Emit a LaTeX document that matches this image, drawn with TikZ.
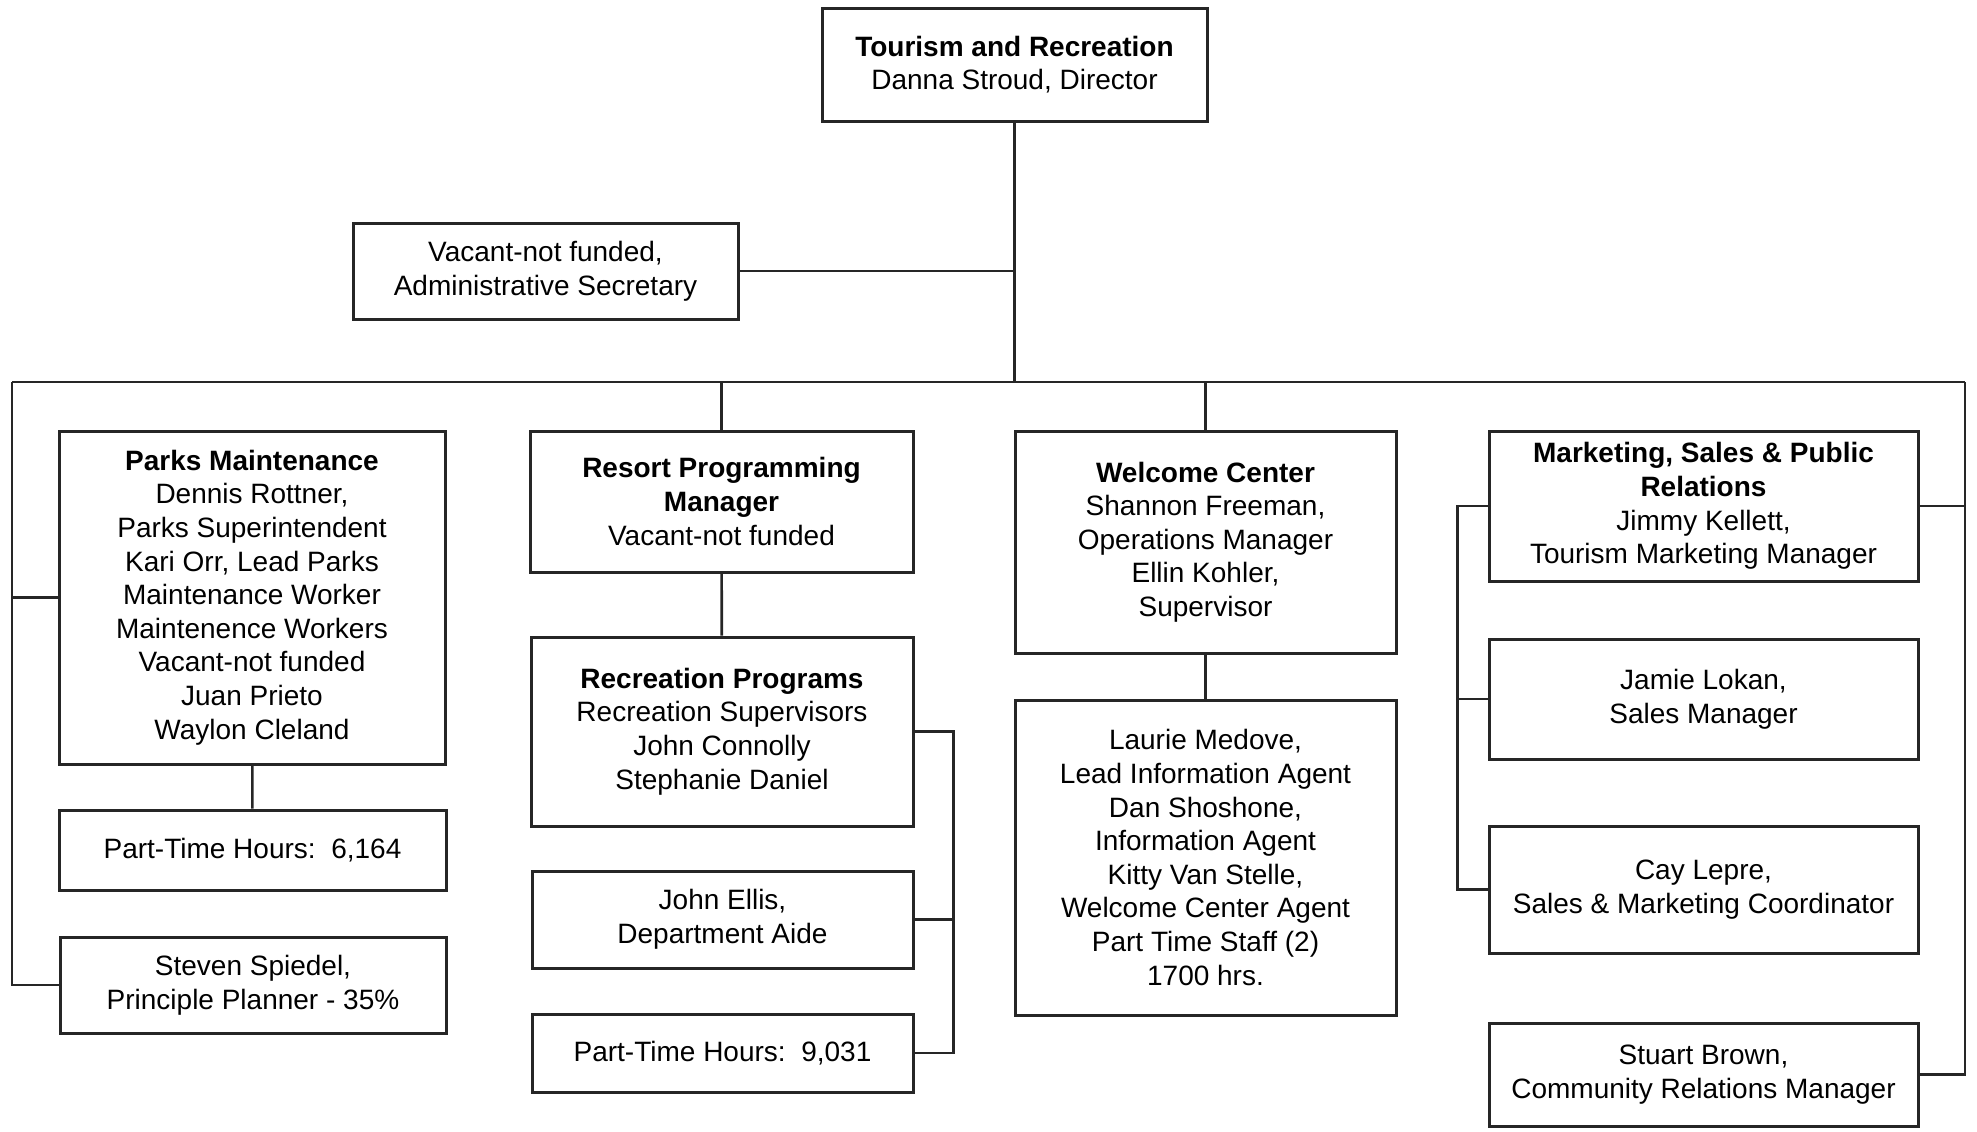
\documentclass[tikz,border=0pt]{standalone}
\usepackage{fontspec}
\setmainfont{Liberation Sans}
\usetikzlibrary{positioning,calc}
\tikzset{
  % org-chart box
  unit/.style  = {rectangle, draw=black!85, line width=1.5pt, fill=white,
                  align=center, inner sep=0pt,
                  font=\fontsize{14}{16.8}\selectfont},
  % size helper (width, height in pt)
  wh/.style 2 args = {minimum width=#1pt, minimum height=#2pt},
  % reporting lines
  link/.style  = {line width=1.3pt, black!85},
}

\begin{document}
\begin{tikzpicture}[x=0.5pt, y=-0.5pt]
  \useasboundingbox (0,0) rectangle (1977,1131);

  % --- director + secretary ---
  \node[unit, wh={192.5}{56.5}] (top) at (1014.5,64.5)
       {\textbf{Tourism and Recreation}\\Danna Stroud, Director};
  \node[unit, wh={192.5}{48}] (sec) at (545.5,271)
       {Vacant-not funded,\\Administrative Secretary};

  % --- column 1: parks ---
  \node[unit, wh={193}{166.5}] (parks) at (252,597.5)
       {\textbf{Parks Maintenance}\\Dennis Rottner,\\Parks Superintendent\\
        Kari Orr, Lead Parks\\Maintenance Worker\\Maintenence Workers\\
        Vacant-not funded\\Juan Prieto\\Waylon Cleland};
  \node[unit, wh={193.5}{40}] (pt1) at (252.5,850) {Part-Time Hours:\ \ 6,164};
  \node[unit, wh={193}{48}] (spiedel) at (253,985)
       {Steven Spiedel,\\Principle Planner - 35\%};

  % --- column 2: resort programming ---
  \node[unit, wh={191.5}{70.5}] (resort) at (721.5,501.5)
       {\textbf{Resort Programming}\\\textbf{Manager}\\Vacant-not funded};
  \node[unit, wh={191}{94.5}] (recprog) at (722,731.5)
       {\textbf{Recreation Programs}\\Recreation Supervisors\\John Connolly\\Stephanie Daniel};
  \node[unit, wh={190.5}{48.5}] (ellis) at (722.5,919.5)
       {John Ellis,\\Department Aide};
  \node[unit, wh={190.5}{39}] (pt2) at (722.5,1053) {Part-Time Hours:\ \ 9,031};

  % --- column 3: welcome center ---
  \node[unit, wh={190.5}{111}] (welcome) at (1205.5,542)
       {\textbf{Welcome Center}\\Shannon Freeman,\\Operations Manager\\Ellin Kohler,\\Supervisor};
  \node[unit, wh={190.5}{157.5}] (agents) at (1205.5,857.5)
       {Laurie Medove,\\Lead Information Agent\\Dan Shoshone,\\Information Agent\\
        Kitty Van Stelle,\\Welcome Center Agent\\Part Time Staff (2)\\1700 hrs.};

  % --- column 4: marketing ---
  \node[unit, wh={214.5}{75}] (mkt) at (1703.5,506)
       {\textbf{Marketing, Sales \& Public}\\\textbf{Relations}\\Jimmy Kellett,\\Tourism Marketing Manager};
  \node[unit, wh={214.5}{60}] (lokan) at (1703.5,699)
       {Jamie Lokan,\\Sales Manager};
  \node[unit, wh={214.5}{63.5}] (lepre) at (1703.5,889.5)
       {Cay Lepre,\\Sales \& Marketing Coordinator};
  \node[unit, wh={214.5}{51.5}] (brown) at (1703.5,1074.5)
       {Stuart Brown,\\Community Relations Manager};

  % --- trunk and bus ---
  \coordinate (busL) at (12,382);
  \coordinate (busR) at (1965,382);
  \draw[link] (top.south) -- (top.south |- busL);
  \draw[link] (sec.east) -- (sec.east -| top.south);
  \draw[link] (busL) -- (busR);
  \draw[link] (resort.north) -- (resort.north |- busL);
  \draw[link] (welcome.north) -- (welcome.north |- busL);

  % outer left / right risers
  \draw[link] (busL) |- (spiedel.west);
  \draw[link] (parks.west) -- (parks.west -| busL);
  \draw[link] (busR) |- (brown.east);
  \draw[link] (mkt.east) -- (mkt.east -| busR);

  % within columns
  \draw[link] (parks) -- (pt1);
  \draw[link] (resort) -- (recprog);
  \draw[link] (welcome) -- (agents);
  \draw[link] (recprog.east) -- ++(39,0) |- (pt2.east);
  \draw[link] (ellis.east) -- ++(39,0);
  \draw[link] (mkt.west) -- ++(-30,0) |- (lepre.west);
  \draw[link] (lokan.west) -- ++(-30,0);

\end{tikzpicture}
\end{document}
